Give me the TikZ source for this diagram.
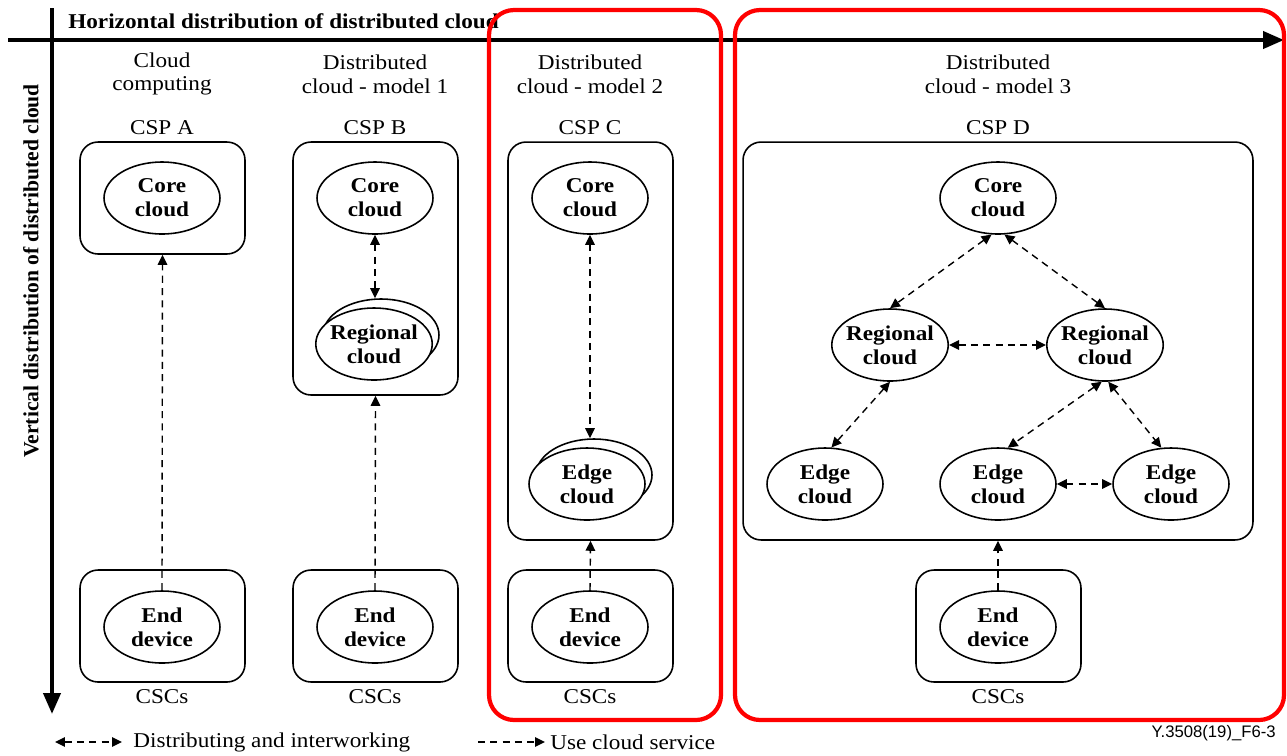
\documentclass[tikz,border=0pt]{standalone}
\usepackage{fontspec}
\setmainfont{Liberation Serif}[FakeStretch=1.1]
\newfontfamily\vfont{Liberation Serif}
\newfontfamily\figsans{Liberation Sans}
\usetikzlibrary{shapes.geometric,arrows.meta,calc}
\begin{document}
\begin{tikzpicture}[x=0.02cm,y=-0.02cm,
  txt/.style={font=\fontsize{12}{13.6}\selectfont, align=center, inner sep=0pt},
  cloudnode/.style={ellipse, draw, line width=0.9pt, fill=white, minimum width=2.32cm, minimum height=1.44cm, inner xsep=-1.5pt, inner ysep=0pt, font=\fontsize{12}{13.6}\selectfont\bfseries, align=center},
  cspbox/.style={draw, line width=0.9pt, rounded corners=0.36cm, inner sep=0pt},
  use/.style={line width=0.8pt, dash pattern=on 4pt off 3pt, -{Triangle[length=0.2cm,width=0.19cm]}},
  dist/.style={line width=0.8pt, dash pattern=on 4pt off 3pt, {Triangle[length=0.2cm,width=0.19cm]}-{Triangle[length=0.2cm,width=0.19cm]}},
  axis/.style={line width=2.3pt, -{Triangle[length=0.42cm,width=0.34cm]}},
  redbox/.style={draw=red, line width=2.4pt, rounded corners=0.5cm}
]
\useasboundingbox (0,0) rectangle (1287,755);

% axes
\coordinate (hs) at (8,40);
\coordinate (he) at (1284,40);
\coordinate (vs) at (52,8);
\coordinate (ve) at (52,714);
\draw[axis] (hs) -- (he);
\draw[axis] (vs) -- (ve);
\node[txt, font=\fontsize{12}{13.6}\selectfont\bfseries, anchor=west] (htitle) at (68,21) {Horizontal distribution of distributed cloud};
\node[txt, font=\vfont\fontsize{12.3}{13.6}\selectfont\bfseries, rotate=90] (vtitle) at (31,271) {Vertical distribution of distributed cloud};

% column headers
\node[txt] (hA) at (162,74) {Cloud\\computing};
\node[txt] (hB) at (375,74) {Distributed\\cloud - model 1};
\node[txt] (hC) at (590,74) {Distributed\\cloud - model 2};
\node[txt] (hD) at (998,74) {Distributed\\cloud - model 3};
\node[txt] (cspA) at (162,128) {CSP A};
\node[txt] (cspB) at (375,128) {CSP B};
\node[txt] (cspC) at (590,128) {CSP C};
\node[txt] (cspD) at (998,128) {CSP D};
\node[txt] (cscA) at (162,697) {CSCs};
\node[txt] (cscB) at (375,697) {CSCs};
\node[txt] (cscC) at (590,697) {CSCs};
\node[txt] (cscD) at (998,697) {CSCs};

% provider boxes
\node[cspbox, minimum width=3.3cm, minimum height=2.24cm] (boxA) at (162.5,198) {};
\node[cspbox, minimum width=3.3cm, minimum height=5.06cm] (boxB) at (375.5,268.5) {};
\node[cspbox, minimum width=3.3cm, minimum height=7.96cm] (boxC) at (590.5,341) {};
\node[cspbox, minimum width=10.2cm, minimum height=7.96cm] (boxD) at (998,341) {};
% consumer boxes
\node[cspbox, minimum width=3.3cm, minimum height=2.24cm] (ebA) at (162.5,626) {};
\node[cspbox, minimum width=3.3cm, minimum height=2.24cm] (ebB) at (375.5,626) {};
\node[cspbox, minimum width=3.3cm, minimum height=2.24cm] (ebC) at (590.5,626) {};
\node[cspbox, minimum width=3.3cm, minimum height=2.24cm] (ebD) at (998.5,626) {};

% clouds
\node[cloudnode] (coreA) at (162,198) {Core\\cloud};
\node[cloudnode] (coreB) at (375,198) {Core\\cloud};
\node[cloudnode] (coreC) at (590,198) {Core\\cloud};
\node[cloudnode] (coreD) at (998,198) {Core\\cloud};
\node[cloudnode] (regBb) at (381,335) {};
\node[cloudnode] (regB) at (374,344) {Regional\\cloud};
\node[cloudnode] (edgeCb) at (594,475) {};
\node[cloudnode] (edgeC) at (587,484) {Edge\\cloud};
\node[cloudnode] (regL) at (890,345) {Regional\\cloud};
\node[cloudnode] (regR) at (1105,345) {Regional\\cloud};
\node[cloudnode] (edgeL) at (825,484) {Edge\\cloud};
\node[cloudnode] (edgeM) at (998,484) {Edge\\cloud};
\node[cloudnode] (edgeR) at (1171,484) {Edge\\cloud};
\node[cloudnode] (endA) at (162,627) {End\\device};
\node[cloudnode] (endB) at (375,627) {End\\device};
\node[cloudnode] (endC) at (590,627) {End\\device};
\node[cloudnode] (endD) at (998,627) {End\\device};

% use cloud service
\draw[use] (endA.north) -- (boxA.south);
\draw[use] (endB.north) -- (boxB.south);
\draw[use] (endC.north) -- (boxC.south);
\draw[use] (endD.north) -- (boxD.south);

% distributing and interworking
\draw[dist] (coreB.south) -- (coreB.south |- regBb.north);
\draw[dist] (coreC.south) -- (coreC.south |- edgeCb.north);
\draw[dist] (coreD.260) -- (regL.north);
\draw[dist] (coreD.280) -- (regR.north);
\draw[dist] (regL.east) -- (regR.west);
\draw[dist] (regL.south) -- (edgeL.80);
\draw[dist] (regR.265) -- (edgeM.75);
\draw[dist] (regR.275) -- (edgeR.105);
\draw[dist] (edgeM.east) -- (edgeR.west);

% red highlight boxes
\draw[redbox] (489,10) rectangle (721,720);
\draw[redbox] (735,10) rectangle (1284,720);

% legend
\coordinate (l1a) at (55,742);
\coordinate (l1b) at (122,742);
\coordinate (l2a) at (478,742);
\coordinate (l2b) at (545,742);
\draw[dist] (l1a) -- (l1b);
\draw[use] (l2a) -- (l2b);
\node[txt, anchor=west] (leg1) at (133,742) {Distributing and interworking};
\node[txt, anchor=west] (leg2) at (550,742) {Use cloud service};

\node[inner sep=0pt, anchor=east, font=\figsans\fontsize{9.5}{11}\selectfont] (figid) at (1276,733) {Y.3508(19)\_F6-3};
\end{tikzpicture}
\end{document}
